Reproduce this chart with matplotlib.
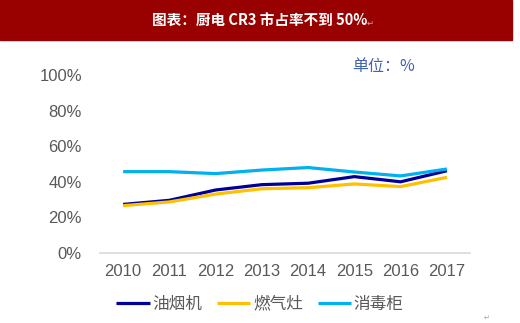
import matplotlib
matplotlib.use("Agg")
import matplotlib.pyplot as plt
from matplotlib.patches import Rectangle

plt.rcParams['font.family'] = ['Noto Sans CJK SC', 'DejaVu Sans']

years = [2010, 2011, 2012, 2013, 2014, 2015, 2016, 2017]
hood = [0.273, 0.296, 0.354, 0.384, 0.392, 0.429, 0.400, 0.462]      # 油烟机
stove = [0.266, 0.287, 0.331, 0.361, 0.367, 0.388, 0.373, 0.425]     # 燃气灶
steril = [0.457, 0.457, 0.446, 0.466, 0.480, 0.455, 0.433, 0.472]    # 消毒柜
series_names = ["油烟机", "燃气灶", "消毒柜"]
colors = ["#000099", "#FFC000", "#00B0F0"]
yticks = [0, 0.2, 0.4, 0.6, 0.8, 1.0]

fig = plt.figure(figsize=(5.2, 3.23), dpi=100)

# title banner
fig.patches.append(Rectangle((0, 1 - 40 / 323), 512 / 520, 40 / 323,
                             transform=fig.transFigure, color="#990000", zorder=0))
fig.text(0.5, 1 - 21 / 323, "图表：厨电 CR3 市占率不到 50%", color="white",
         fontsize=10.5, fontweight="bold", ha="center", va="center")
fig.text(367 / 520, 1 - 23 / 323, "↵", color="#D9A0A0", fontsize=6,
         ha="left", va="center", family="DejaVu Sans")

ax = fig.add_axes([100 / 520, 70 / 323, 370 / 520, 178 / 323])
for vals, name, c in zip([hood, stove, steril], series_names, colors):
    ax.plot(years, vals, color=c, lw=2.3, label=name, solid_capstyle="butt")

ax.set_xlim(2009.5, 2017.5)
ax.set_ylim(0, 1.0)
ax.set_yticks(yticks)
ax.set_yticklabels([f"{int(round(v * 100))}%" for v in yticks])
ax.set_xticks(years)
ax.set_xticklabels([str(y) for y in years])
ax.tick_params(length=0, labelsize=12, labelcolor="#595959", pad=8)
ax.tick_params(axis="y", pad=13)
for lab in ax.get_xticklabels() + ax.get_yticklabels():
    lab.set_family(["Liberation Sans", "DejaVu Sans"])
for s in ["top", "right", "left"]:
    ax.spines[s].set_visible(False)
ax.spines["bottom"].set_color("#D9D9D9")
ax.spines["bottom"].set_linewidth(1.2)

fig.text(384 / 520, 1 - 66 / 323, "单位：%", color="#4060B0", fontsize=11.5,
         ha="center", va="center")

fig.legend(loc="center", bbox_to_anchor=(0.5, 1 - 304 / 323), ncol=3, frameon=False,
           fontsize=12, handlelength=2.0, handletextpad=0.15, columnspacing=0.9,
           labelcolor="#595959")

fig.text(487 / 520, 1 - 318 / 323, "↵", color="#A0A0A0", fontsize=5,
         ha="center", va="center", family="DejaVu Sans")

fig.savefig("out.png", dpi=100)
